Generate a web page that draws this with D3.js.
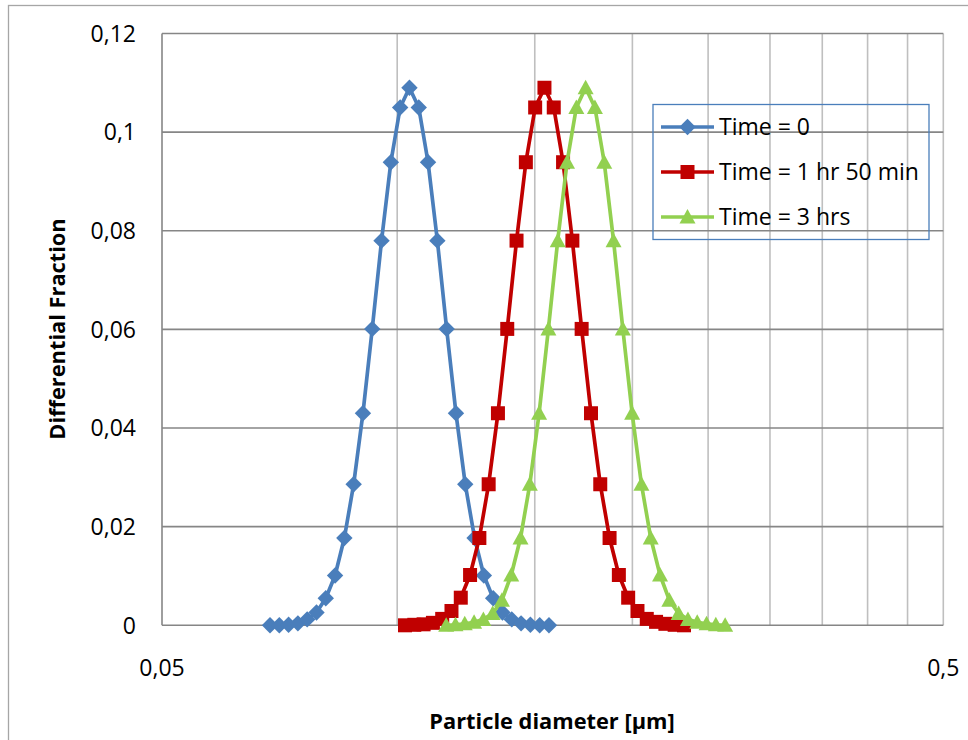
<!DOCTYPE html>
<html><head><meta charset="utf-8">
<script src="https://cdn.jsdelivr.net/npm/d3@7"></script>
<style>body{margin:0;background:#fff}svg{display:block}text{font-family:"Open Sans",sans-serif;fill:#000}</style>
</head><body>
<svg id="chart" width="968" height="740"></svg>
<script>
const seriesNames = ["Time = 0", "Time = 1 hr 50 min", "Time = 3 hrs"];
const seriesColors = ["#4a7ebb", "#c00000", "#92d050"];
const seriesMarkers = ["diamond", "square", "triangle"];

const diamT0 = [0.06874,0.07065,0.07261,0.07463,0.07670,0.07883,0.08102,0.08327,0.08558,0.08796,0.09040,0.09291,0.09549,0.09815,0.10088,0.10368,0.10656,0.10952,0.11257,0.11569,0.11891,0.12221,0.12561,0.12910,0.13269,0.13638,0.14017,0.14406,0.14807,0.15218,0.15641];
const fracT0 = [0.0000,0.0000,0.0001,0.0004,0.0012,0.0026,0.0055,0.0101,0.0177,0.0286,0.0430,0.0601,0.0780,0.0939,0.1050,0.1090,0.1050,0.0939,0.0780,0.0601,0.0430,0.0286,0.0177,0.0101,0.0055,0.0026,0.0012,0.0004,0.0001,0.0000,0.0000];

const diamT1 = [0.10233,0.10517,0.10809,0.11110,0.11418,0.11735,0.12061,0.12396,0.12740,0.13094,0.13457,0.13831,0.14215,0.14611,0.15017,0.15434,0.15863,0.16304,0.16758,0.17222,0.17702,0.18193,0.18699,0.19218,0.19753,0.20302,0.20866,0.21445,0.22042,0.22654,0.23284];
const fracT1 = [0.0000,0.0001,0.0002,0.0005,0.0013,0.0029,0.0056,0.0102,0.0177,0.0286,0.0430,0.0601,0.0780,0.0939,0.1050,0.1090,0.1050,0.0939,0.0780,0.0601,0.0430,0.0286,0.0177,0.0102,0.0056,0.0029,0.0013,0.0007,0.0003,0.0001,0.0000];

const diamT2 = [0.11553,0.11874,0.12203,0.12543,0.12891,0.13249,0.13617,0.13995,0.14383,0.14783,0.15193,0.15615,0.16049,0.16496,0.16955,0.17425,0.17909,0.18407,0.18919,0.19444,0.19985,0.20540,0.21111,0.21698,0.22301,0.22921,0.23558,0.24212,0.24886,0.25576,0.26287];
const fracT2 = [0.0000,0.0001,0.0003,0.0006,0.0012,0.0024,0.0051,0.0102,0.0177,0.0286,0.0430,0.0601,0.0780,0.0939,0.1050,0.1090,0.1050,0.0939,0.0780,0.0601,0.0430,0.0286,0.0177,0.0102,0.0051,0.0024,0.0012,0.0006,0.0003,0.0001,0.0000];

const yTicks = [0, 0.02, 0.04, 0.06, 0.08, 0.10, 0.12];
const yTickLabels = ["0", "0,02", "0,04", "0,06", "0,08", "0,1", "0,12"];
const xTicks = [0.05, 0.5];
const xTickLabels = ["0,05", "0,5"];
const xGrid = [0.10, 0.15, 0.20, 0.25, 0.30, 0.35, 0.40, 0.45, 0.50];

const svg = d3.select("#chart");
const x = d3.scaleLog().domain([0.05, 0.5]).range([162, 943.3]);
const y = d3.scaleLinear().domain([0, 0.12]).range([625.3, 33.5]);

// outer chart border
svg.append("rect").attr("x", 8.5).attr("y", 5.5).attr("width", 980).attr("height", 760)
  .attr("fill", "none").attr("stroke", "#a6a6a6").attr("stroke-width", 1.3);

// vertical gridlines
svg.append("g").selectAll("line").data(xGrid).join("line")
  .attr("x1", d => x(d)).attr("x2", d => x(d))
  .attr("y1", y(0.12)).attr("y2", y(0))
  .attr("stroke", "#bfbfbf").attr("stroke-width", 1.6);

// horizontal gridlines
svg.append("g").selectAll("line").data(yTicks).join("line")
  .attr("x1", x(0.05)).attr("x2", x(0.5))
  .attr("y1", d => y(d)).attr("y2", d => y(d))
  .attr("stroke", "#868686").attr("stroke-width", 1.6);

// y axis line
svg.append("line").attr("x1", x(0.05)).attr("x2", x(0.05)).attr("y1", y(0.12)).attr("y2", y(0))
  .attr("stroke", "#868686").attr("stroke-width", 1.6);

// y tick labels
svg.append("g").selectAll("text").data(yTicks).join("text")
  .attr("x", 136).attr("y", d => y(d)).attr("dy", "0.36em")
  .attr("text-anchor", "end").attr("font-size", 23)
  .text((d, i) => yTickLabels[i]);

// x tick labels
svg.append("g").selectAll("text").data(xTicks).join("text")
  .attr("x", d => x(d)).attr("y", 668).attr("dy", "0.36em")
  .attr("text-anchor", "middle").attr("font-size", 23)
  .text((d, i) => xTickLabels[i]);

// axis titles
svg.append("text").attr("x", 552).attr("y", 721).attr("dy", "0.36em")
  .attr("text-anchor", "middle").attr("font-size", 21.8).attr("font-weight", "bold")
  .text("Particle diameter [µm]");
svg.append("text").attr("transform", "translate(57,329) rotate(-90)").attr("dy", "0.36em")
  .attr("text-anchor", "middle").attr("font-size", 21.8).attr("font-weight", "bold")
  .text("Differential Fraction");

function markerPath(type) {
  if (type === "diamond") return "M0,-8.2L8.2,0L0,8.2L-8.2,0Z";
  if (type === "square") return "M-7,-7H7V7H-7Z";
  return "M0,-8L8,6.5L-8,6.5Z";
}

const series = [
  {d: diamT0, f: fracT0},
  {d: diamT1, f: fracT1},
  {d: diamT2, f: fracT2}
];
const line = d3.line().x(p => x(p[0])).y(p => y(p[1]));

series.forEach((s, k) => {
  const pts = s.d.map((d, i) => [d, s.f[i]]);
  const g = svg.append("g");
  g.append("path").attr("d", line(pts)).attr("fill", "none")
    .attr("stroke", seriesColors[k]).attr("stroke-width", 3.7).attr("stroke-linejoin", "round");
  g.selectAll("path.m").data(pts).join("path").attr("class", "m")
    .attr("transform", p => `translate(${x(p[0])},${y(p[1])})`)
    .attr("d", markerPath(seriesMarkers[k]))
    .attr("fill", seriesColors[k]);
});

// legend
const lg = svg.append("g");
lg.append("rect").attr("x", 653).attr("y", 104.5).attr("width", 276).attr("height", 135)
  .attr("fill", "none").attr("stroke", "#4a7ebb").attr("stroke-width", 1.3);
seriesNames.forEach((name, k) => {
  const cy = 127 + k * 45;
  lg.append("line").attr("x1", 661).attr("x2", 714).attr("y1", cy).attr("y2", cy)
    .attr("stroke", seriesColors[k]).attr("stroke-width", 3.7);
  lg.append("path").attr("transform", `translate(687.5,${cy})`).attr("d", markerPath(seriesMarkers[k]))
    .attr("fill", seriesColors[k]);
  lg.append("text").attr("x", 719).attr("y", cy).attr("dy", "0.36em").attr("font-size", 23).text(name);
});
</script>
</body></html>
